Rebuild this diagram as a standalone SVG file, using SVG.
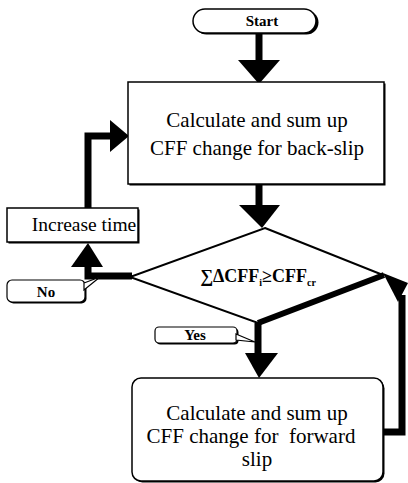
<svg xmlns="http://www.w3.org/2000/svg" width="408" height="483" viewBox="0 0 408 483">
<style>
.t{font-family:"Liberation Serif","Times New Roman",serif;fill:#000;text-anchor:middle}
.big{font-size:21px}
.mid{font-size:19.5px}
.sm{font-size:15px;font-weight:bold}
.box{fill:#fff;stroke:#000;stroke-width:1.5}
.thick{fill:none;stroke:#000;stroke-width:7;stroke-linejoin:miter}
.ah{fill:#000}
.call{fill:#fff;stroke:#000;stroke-width:1.2}
</style>
<rect width="408" height="483" fill="#fff"/>
<g id="connectors">
  <line class="thick" x1="259" y1="33" x2="259" y2="63"/>
  <polygon class="ah" points="238,60 280,60 259,84"/>
  <line class="thick" x1="259" y1="185" x2="259" y2="207"/>
  <polygon class="ah" points="239,205 280,205 262,228"/>
  <polyline class="thick" points="132,276 88,276 88,265"/>
  <polygon class="ah" points="71,267 103,267 88,243"/>
  <polyline class="thick" points="88,208 88,136 112,136"/>
  <polygon class="ah" points="110,120 110,152 129,136"/>
  <line class="thick" x1="258" y1="323" x2="258" y2="355"/>
  <polygon class="ah" points="245,353 278,353 259,378"/>
  <polyline class="thick" points="383,432 402,432 402,295"/>
  <polygon class="ah" points="383,273 408,283 398,302"/>
</g>
<g id="start">
  <rect x="194.5" y="10.5" width="124" height="24" rx="12" fill="#000"/>
  <rect class="box" x="193" y="9" width="123" height="24" rx="12"/>
  <text class="t sm" x="262" y="26">Start</text>
</g>
<g id="backslip">
  <rect x="129.5" y="83.5" width="256" height="102" fill="#000"/>
  <rect class="box" x="128" y="82" width="256" height="102"/>
  <text class="t big" x="257" y="127">Calculate and sum up</text>
  <text class="t big" x="257" y="155">CFF change for back-slip</text>
</g>
<g id="increase">
  <rect x="8.5" y="209.5" width="131" height="34" fill="#000"/>
  <rect class="box" x="7" y="208" width="131" height="34"/>
  <text class="t mid" x="84" y="231">Increase time</text>
</g>
<g id="decision">
  <polygon fill="#fff" stroke="#000" stroke-width="2" points="265,228 383,275 258,323 130,277"/>
  <line stroke="#000" stroke-width="6" x1="258" y1="323" x2="384" y2="275"/>
  <text class="t" x="258" y="282" font-size="18" font-weight="bold">∑ΔCFF<tspan font-size="10" dy="4">i</tspan><tspan dy="-4">≥CFF</tspan><tspan font-size="10" dy="4">cr</tspan></text>
</g>
<g id="no-label">
  <rect x="8.5" y="281.5" width="78" height="22" rx="5" fill="#000"/>
  <rect class="call" x="7" y="280" width="78" height="22" rx="5"/>
  <polygon class="call" points="84,283 100,277 84,290"/>
  <text class="t sm" x="46" y="297">No</text>
</g>
<g id="yes-label">
  <rect x="156.5" y="328.5" width="82" height="16" rx="4" fill="#000"/>
  <rect class="call" x="155" y="327" width="82" height="16" rx="4"/>
  <polygon class="call" points="236,334 255,342 236,340"/>
  <text class="t sm" x="195" y="340" font-size="14">Yes</text>
</g>
<g id="forward">
  <rect x="133.5" y="379.5" width="251" height="103" rx="9" fill="#000"/>
  <rect class="box" x="132" y="378" width="251" height="103" rx="9"/>
  <text class="t big" x="257" y="420">Calculate and sum up</text>
  <text class="t big" x="251" y="443">CFF change for&#160; forward</text>
  <text class="t big" x="257" y="466">slip</text>
</g>
</svg>
